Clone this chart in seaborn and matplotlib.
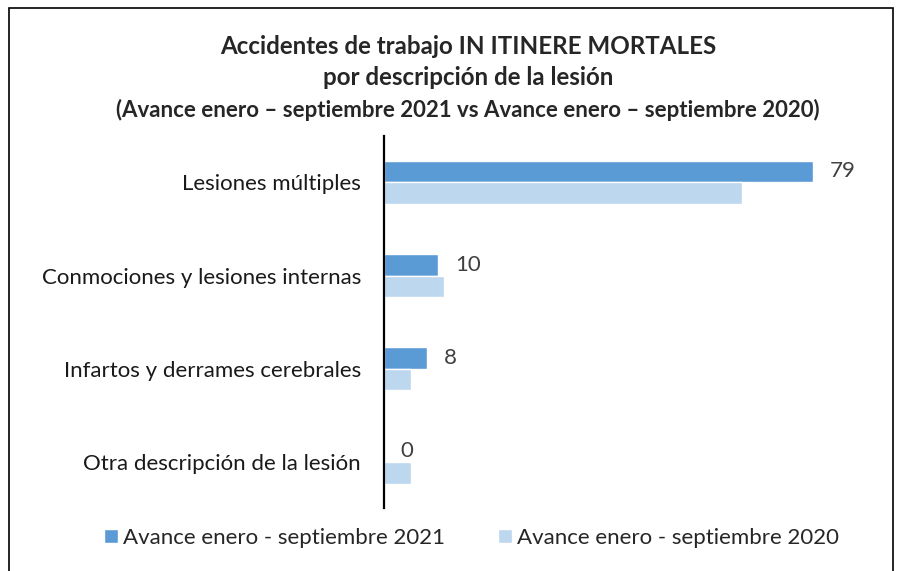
import matplotlib
matplotlib.use("Agg")
import matplotlib.pyplot as plt
import matplotlib.patches as patches
import pandas as pd
import seaborn as sns

categories = [
    "Lesiones múltiples",
    "Conmociones y lesiones internas",
    "Infartos y derrames cerebrales",
    "Otra descripción de la lesión",
]
values_2021 = [79, 10, 8, 0]
values_2020 = [66, 11, 5, 5]
series = ["Avance enero - septiembre 2021", "Avance enero - septiembre 2020"]
colors = ["#5B9BD5", "#BDD7EE"]

df = pd.DataFrame({
    "categoria": categories * 2,
    "valor": values_2021 + values_2020,
    "serie": [series[0]] * len(categories) + [series[1]] * len(categories),
})

sns.set_style("white")
plt.rcParams["font.family"] = ["Lato", "DejaVu Sans"]

fig = plt.figure(figsize=(8.97, 5.71), dpi=100)
ax = fig.add_axes([0.428, 0.110, 0.533, 0.652])

sns.barplot(
    data=df, y="categoria", x="valor", hue="serie",
    palette=colors, width=0.47, orient="h", ax=ax,
    saturation=1, legend=True,
)

ax.bar_label(ax.containers[0], padding=12, fontsize=16, color="#404040")

ax.set_xlim(0, 88)
ax.set_ylim(3.5, -0.5)
ax.set_xlabel("")
ax.set_ylabel("")
ax.set_xticks([])
ax.tick_params(axis="y", length=0, pad=16.5, labelsize=16, labelcolor="#1a1a1a")
for s in ["top", "right", "bottom"]:
    ax.spines[s].set_visible(False)
ax.spines["left"].set_color("black")
ax.spines["left"].set_linewidth(1.6)

handles, labels = ax.get_legend_handles_labels()
ax.legend_.remove()
fig.legend(
    handles, labels, loc="center", bbox_to_anchor=(0.526, 0.058), ncol=2,
    frameon=False, fontsize=16, handlelength=0.6, handleheight=0.6,
    handletextpad=0.25, columnspacing=2.4,
)

title_x = 0.522
fig.text(title_x, 1 - 47 / 571, "Accidentes de trabajo IN ITINERE MORTALES",
         ha="center", va="center", fontsize=17.4, fontweight="bold")
fig.text(title_x, 1 - 78 / 571, "por descripción de la lesión",
         ha="center", va="center", fontsize=17.4, fontweight="bold")
fig.text(title_x, 1 - 110 / 571,
         "(Avance enero – septiembre 2021 vs Avance enero – septiembre 2020)",
         ha="center", va="center", fontsize=16, fontweight="bold")

frame = patches.Rectangle((0.010, -0.05), 0.9855, 1.036, transform=fig.transFigure,
                          fill=False, edgecolor="black", linewidth=1.2, clip_on=False)
fig.patches.append(frame)

fig.savefig("out.png", dpi=100)
